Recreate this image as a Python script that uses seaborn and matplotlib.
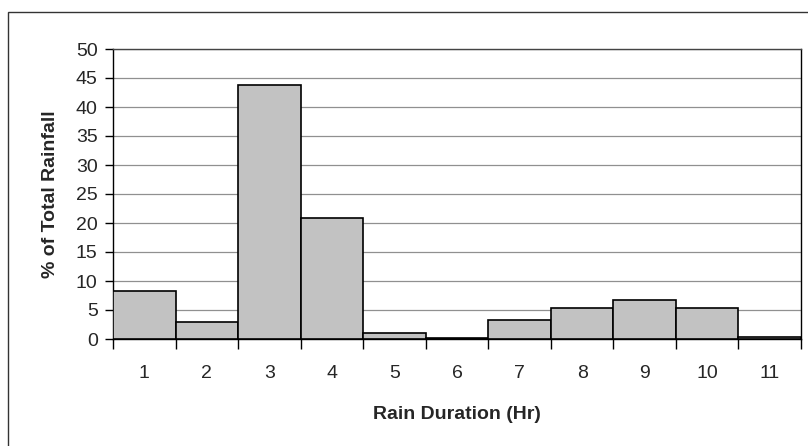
import matplotlib
matplotlib.use("Agg")
import matplotlib.pyplot as plt
import seaborn as sns
import pandas as pd
import numpy as np
from matplotlib.patches import Rectangle

durations = ["1", "2", "3", "4", "5", "6", "7", "8", "9", "10", "11"]
percent = [8.3, 2.9, 43.8, 20.9, 1.0, 0.2, 3.3, 5.4, 6.8, 5.3, 0.4]
y_ticks = [0, 5, 10, 15, 20, 25, 30, 35, 40, 45, 50]

sns.set_theme(style="white")
plt.rcParams['font.family'] = ['Liberation Sans', 'DejaVu Sans']

df = pd.DataFrame({"Duration": durations, "Percent": percent})

fig = plt.figure(figsize=(8.08, 4.46), dpi=100)
ax = fig.add_axes([113/808, 1-339/446, (801-113)/808, (339-49)/446])

# outer chart frame
fig.patches.append(Rectangle((8/808, -0.05), 1.2, 1 - 12/446 + 0.05,
                             transform=fig.transFigure, fill=False,
                             edgecolor='#333333', linewidth=1.0))

sns.barplot(data=df, x="Duration", y="Percent", order=durations,
            color="#c2c2c2", width=1.0, edgecolor="black", linewidth=1.2,
            saturation=1, ax=ax, zorder=3)

ax.set_xlim(-0.5, len(durations) - 0.5)
ax.set_ylim(0, 50)
ax.set_yticks(y_ticks)
ax.set_yticklabels([str(v) for v in y_ticks], fontsize=14)
ax.yaxis.grid(True, color='#909090', linewidth=0.9, zorder=0)
ax.set_axisbelow(True)

ax.set_xticks(range(len(durations)))
ax.set_xticklabels(durations, fontsize=14)
ax.set_xticks(np.arange(-0.5, len(durations), 1.0), minor=True)
ax.tick_params(axis='x', which='major', length=0, pad=19)
ax.tick_params(axis='x', which='minor', length=7, width=1, color='black', direction='out', bottom=True)
ax.tick_params(axis='y', which='major', length=6, width=1, color='black', direction='out', left=True, pad=5)

for s in ax.spines.values():
    s.set_visible(True)
    s.set_color('black')
    s.set_linewidth(1.0)
ax.spines['top'].set_color('#444444')

ax.set_xlabel("Rain Duration (Hr)", fontsize=14, fontweight='bold', labelpad=17)
ax.set_ylabel("% of Total Rainfall", fontsize=14, fontweight='bold', labelpad=12)

fig.savefig("out.png", dpi=100)
